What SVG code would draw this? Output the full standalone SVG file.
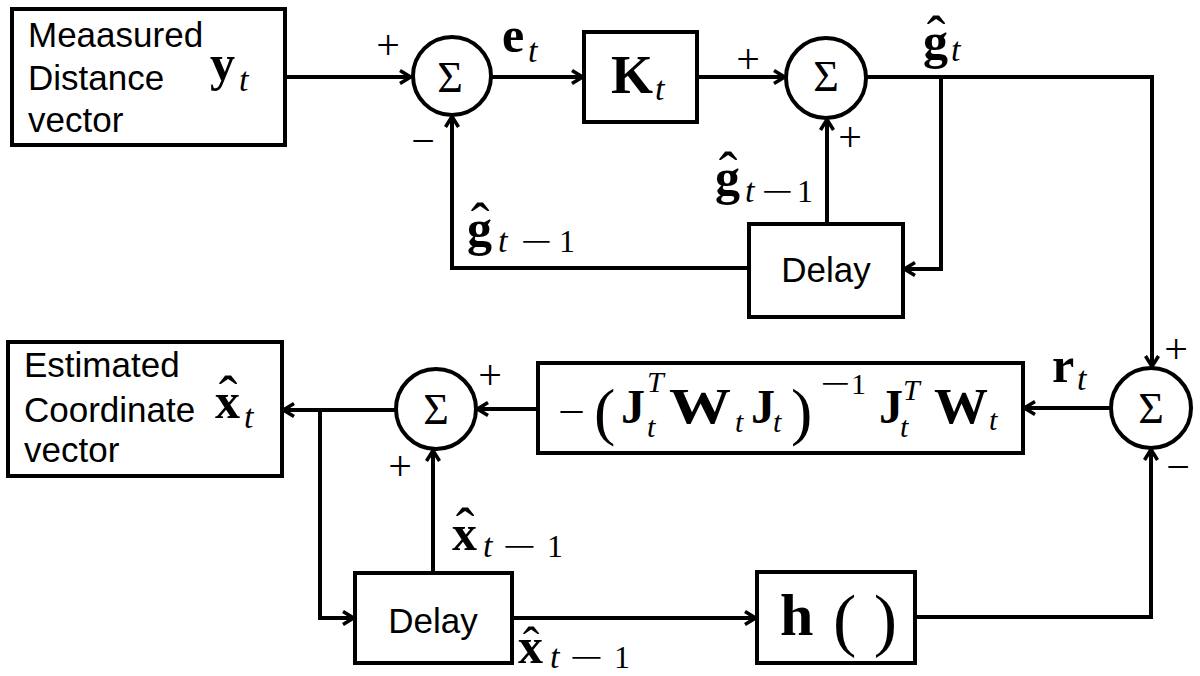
<svg xmlns="http://www.w3.org/2000/svg" width="1200" height="676" viewBox="0 0 1200 676">
<defs>
<style>
.ln{fill:none;stroke:#000;stroke-width:4;stroke-linejoin:miter}
.bx{fill:#fff;stroke:#000;stroke-width:4}
.sf{font-family:"Liberation Sans",Arial,sans-serif;font-size:35px;fill:#000}
.mb{font-family:"Liberation Serif","Times New Roman",serif;font-weight:bold;font-size:50px;fill:#000}
.mi{font-family:"Liberation Serif","Times New Roman",serif;font-style:italic;font-weight:normal;font-size:34px;fill:#000}
.mr{font-family:"Liberation Serif","Times New Roman",serif;fill:#000}
.sg{font-family:"Liberation Serif","Times New Roman",serif;font-size:44px;fill:#000;text-anchor:middle}
.pm{font-family:"Liberation Serif","Times New Roman",serif;font-size:42px;fill:#000;text-anchor:middle}
.hat{font-family:"Liberation Serif","Times New Roman",serif;font-weight:normal;font-size:56px}
</style>
<marker id="ah" viewBox="0 0 14 16" refX="13" refY="8" markerWidth="14" markerHeight="16" markerUnits="userSpaceOnUse" orient="auto">
<path d="M2,1.5 L12.5,8 L2,14.5" fill="none" stroke="#000" stroke-width="3.5"/>
</marker>
</defs>
<rect width="1200" height="676" fill="#fff"/>

<g id="connectors">
<path class="ln" d="M285,77 H411" marker-end="url(#ah)"/>
<path class="ln" d="M492,77 H583" marker-end="url(#ah)"/>
<path class="ln" d="M697,77 H785" marker-end="url(#ah)"/>
<path class="ln" d="M867,77 H1152 V367" marker-end="url(#ah)"/>
<path class="ln" d="M941,77 V269 H904" marker-end="url(#ah)"/>
<path class="ln" d="M827,224 V119" marker-end="url(#ah)"/>
<path class="ln" d="M749,268 H452 V116" marker-end="url(#ah)"/>
<path class="ln" d="M1111,408 H1024" marker-end="url(#ah)"/>
<path class="ln" d="M538,409 H477" marker-end="url(#ah)"/>
<path class="ln" d="M396,410 H283" marker-end="url(#ah)"/>
<path class="ln" d="M320,410 V618 H354" marker-end="url(#ah)"/>
<path class="ln" d="M433,573 V450" marker-end="url(#ah)"/>
<path class="ln" d="M512,618 H756" marker-end="url(#ah)"/>
<path class="ln" d="M915,617 H1151 V449" marker-end="url(#ah)"/>
</g>

<g id="measured">
<rect class="bx" x="12" y="9" width="273" height="136"/>
<text class="sf" x="28" y="47">Meaasured</text>
<text class="sf" x="28" y="90">Distance</text>
<text class="sf" x="28" y="132">vector</text>
<text class="mb" x="210" y="80">y<tspan class="mi" x="239" y="91">t</tspan></text>
</g>

<g id="sum1">
<circle class="bx" cx="452" cy="76" r="39"/>
<text class="sg" x="450" y="92">Σ</text>
</g>

<g id="gain">
<rect class="bx" x="584" y="32" width="113" height="90"/>
<text class="mb" x="611" y="93" style="font-size:54px">K<tspan class="mi" x="655" y="100">t</tspan></text>
</g>

<g id="sum2">
<circle class="bx" cx="826" cy="78" r="40"/>
<text class="sg" x="826" y="91">Σ</text>
</g>

<g id="delay1">
<rect class="bx" x="749" y="224" width="154" height="93"/>
<text class="sf" x="826" y="282" text-anchor="middle">Delay</text>
</g>

<g id="sum3">
<circle class="bx" cx="1151" cy="408" r="40"/>
<text class="sg" x="1151" y="423">Σ</text>
</g>

<g id="gainmatrix">
<rect class="bx" x="538" y="363" width="485" height="90"/>
<text class="mr" x="558" y="425" style="font-size:40px" textLength="27" lengthAdjust="spacingAndGlyphs">−</text>
<text class="mr" x="594" y="433" style="font-size:64px">(</text>
<text class="mb" x="621" y="423" style="font-size:48px">J</text>
<text class="mi" x="647" y="392" style="font-size:30px">T</text>
<text class="mi" x="647" y="437" style="font-size:30px">t</text>
<text class="mb" x="669" y="423" style="font-size:50px" textLength="62" lengthAdjust="spacingAndGlyphs">W</text>
<text class="mi" x="735" y="432" style="font-size:30px">t</text>
<text class="mb" x="751" y="423" style="font-size:48px">J</text>
<text class="mi" x="773" y="432" style="font-size:30px">t</text>
<text class="mr" x="791" y="433" style="font-size:64px">)</text>
<text class="mr" x="820" y="395" style="font-size:34px" textLength="30" lengthAdjust="spacingAndGlyphs">−</text>
<text class="mr" x="851" y="394" style="font-size:30px">1</text>
<text class="mb" x="879" y="423" style="font-size:48px">J</text>
<text class="mi" x="903" y="400" style="font-size:30px">T</text>
<text class="mi" x="900" y="437" style="font-size:30px">t</text>
<text class="mb" x="934" y="423" style="font-size:50px" textLength="54" lengthAdjust="spacingAndGlyphs">W</text>
<text class="mi" x="989" y="430" style="font-size:30px">t</text>
</g>

<g id="sum4">
<circle class="bx" cx="436" cy="409" r="40"/>
<text class="sg" x="436" y="424">Σ</text>
</g>

<g id="estimated">
<rect class="bx" x="8" y="342" width="274" height="134"/>
<text class="sf" x="24" y="377">Estimated</text>
<text class="sf" x="24" y="422">Coordinate</text>
<text class="sf" x="24" y="462">vector</text>
<text class="mb"><tspan class="hat" x="218.7" y="415">ˆ</tspan><tspan x="215" y="418">x</tspan><tspan class="mi" x="244" y="428">t</tspan></text>
</g>

<g id="delay2">
<rect class="bx" x="355" y="573" width="157" height="90"/>
<text class="sf" x="433" y="633" text-anchor="middle">Delay</text>
</g>

<g id="hfun">
<rect class="bx" x="757" y="572" width="158" height="91"/>
<text class="mb" x="780" y="635" style="font-size:60px">h</text>
<text class="mr" x="833" y="643" style="font-size:70px">( )</text>
</g>

<g id="labels">
<text class="pm" x="388" y="59">+</text>
<text class="pm" x="423" y="155">−</text>
<text class="pm" x="748" y="73">+</text>
<text class="pm" x="850" y="151">+</text>
<text class="pm" x="1176" y="363">+</text>
<text class="pm" x="1178" y="481">−</text>
<text class="pm" x="490" y="389">+</text>
<text class="pm" x="400" y="480">+</text>

<text class="mb" x="502" y="52">e<tspan class="mi" x="528" y="62">t</tspan></text>

<text class="mb"><tspan class="hat" x="926.7" y="55">ˆ</tspan><tspan x="923" y="58">g</tspan><tspan class="mi" x="951" y="61">t</tspan></text>

<text class="mb"><tspan class="hat" x="718.7" y="191">ˆ</tspan><tspan x="715" y="194">g</tspan><tspan class="mi" x="745" y="202">t</tspan></text>
<text class="mr" x="761" y="203" style="font-size:34px" textLength="32" lengthAdjust="spacingAndGlyphs">−</text>
<text class="mr" x="797" y="202" style="font-size:32px">1</text>

<text class="mb"><tspan class="hat" x="470.7" y="242">ˆ</tspan><tspan x="467" y="245">g</tspan><tspan class="mi" x="498" y="252">t</tspan></text>
<text class="mr" x="520" y="253" style="font-size:34px" textLength="32" lengthAdjust="spacingAndGlyphs">−</text>
<text class="mr" x="559" y="252" style="font-size:32px">1</text>

<text class="mb" x="1052" y="382">r<tspan class="mi" x="1077" y="390">t</tspan></text>

<text class="mb"><tspan class="hat" x="455.7" y="547">ˆ</tspan><tspan x="452" y="550">x</tspan><tspan class="mi" x="483" y="557">t</tspan></text>
<text class="mr" x="502" y="558" style="font-size:34px" textLength="34" lengthAdjust="spacingAndGlyphs">−</text>
<text class="mr" x="547" y="557" style="font-size:32px">1</text>

<text class="mb"><tspan class="hat" x="522.7" y="662" style="font-size:50px">ˆ</tspan><tspan x="518" y="663">x</tspan><tspan class="mi" x="550" y="668">t</tspan></text>
<text class="mr" x="569" y="669" style="font-size:34px" textLength="34" lengthAdjust="spacingAndGlyphs">−</text>
<text class="mr" x="614" y="668" style="font-size:32px">1</text>
</g>
</svg>
